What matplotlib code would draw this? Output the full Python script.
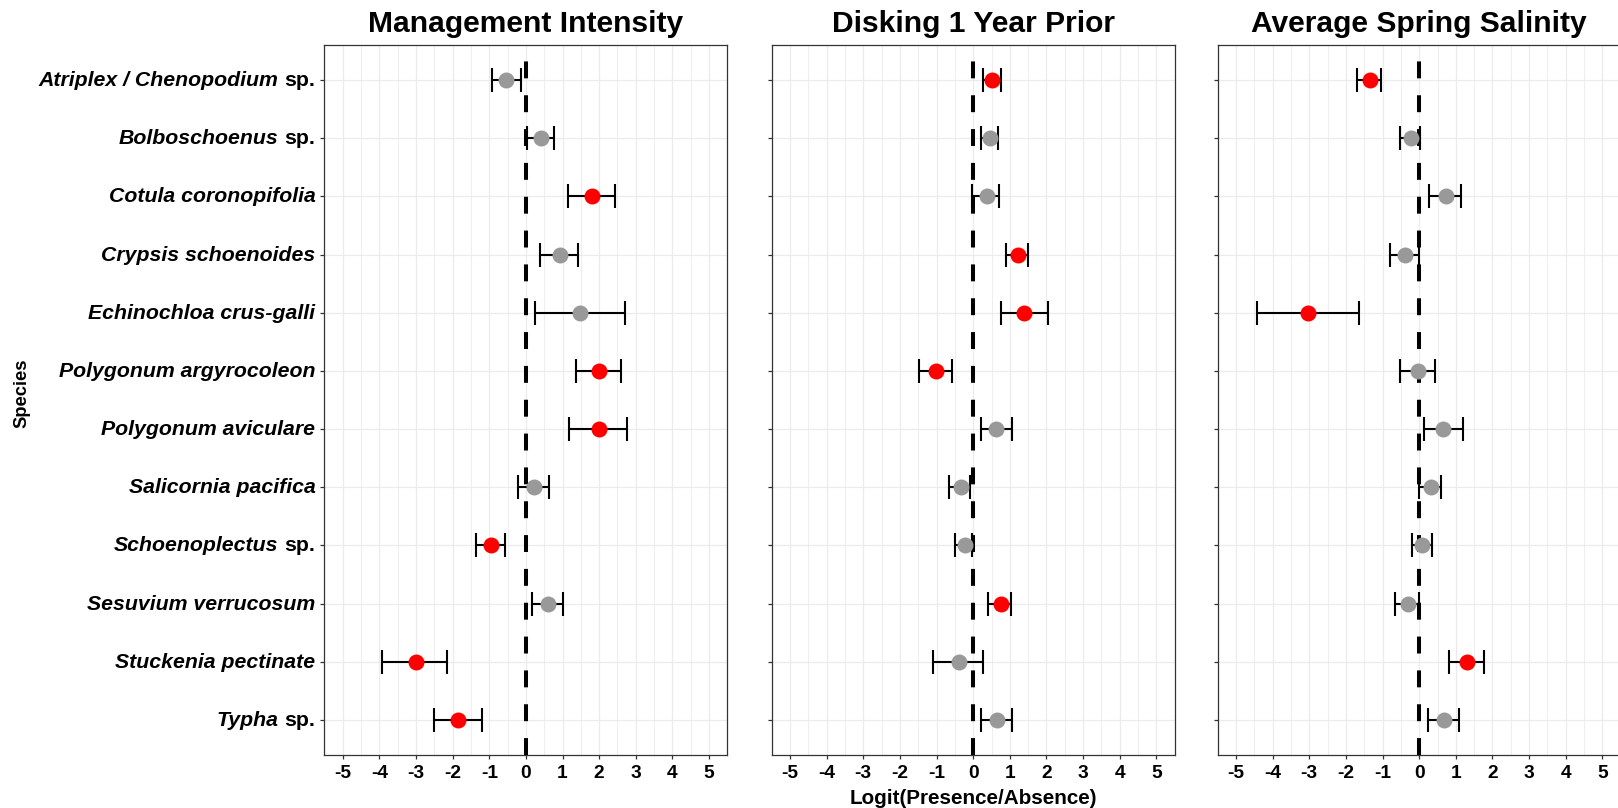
import matplotlib
matplotlib.use('Agg')
import matplotlib.pyplot as plt
import matplotlib.transforms as mtransforms
import numpy as np

plt.rcParams['font.family'] = ['Liberation Sans', 'DejaVu Sans']

# ---------------- data ----------------
species_italic = ["Atriplex / Chenopodium", "Bolboschoenus", "Cotula coronopifolia",
                  "Crypsis schoenoides", "Echinochloa crus-galli", "Polygonum argyrocoleon",
                  "Polygonum aviculare", "Salicornia pacifica", "Schoenoplectus",
                  "Sesuvium verrucosum", "Stuckenia pectinate", "Typha"]
species_suffix = ["sp.", "sp.", "", "", "", "", "", "", "sp.", "", "", "sp."]

panel_titles = ["Management Intensity", "Disking 1 Year Prior", "Average Spring Salinity"]
x_ticks = [-5, -4, -3, -2, -1, 0, 1, 2, 3, 4, 5]
x_label = "Logit(Presence/Absence)"
y_label = "Species"

mi_est = [-0.53, 0.40, 1.80, 0.92, 1.47, 2.00, 2.00, 0.21, -0.94, 0.61, -3.01, -1.86]
mi_low = [-0.93, 0.04, 1.15, 0.38, 0.25, 1.37, 1.19, -0.22, -1.35, 0.18, -3.92, -2.51]
mi_high = [-0.13, 0.78, 2.43, 1.41, 2.70, 2.60, 2.76, 0.62, -0.56, 1.01, -2.16, -1.19]
mi_sig = [0, 0, 1, 0, 0, 1, 1, 0, 1, 0, 1, 1]

dk_est = [0.51, 0.46, 0.37, 1.22, 1.40, -1.02, 0.63, -0.34, -0.22, 0.75, -0.40, 0.65]
dk_low = [0.26, 0.20, -0.02, 0.90, 0.75, -1.48, 0.20, -0.66, -0.51, 0.40, -1.10, 0.22]
dk_high = [0.76, 0.68, 0.70, 1.50, 2.04, -0.59, 1.06, -0.09, -0.02, 1.02, 0.27, 1.06]
dk_sig = [1, 0, 0, 1, 1, 1, 0, 0, 0, 1, 0, 0]

sal_est = [-1.35, -0.22, 0.73, -0.38, -3.03, -0.04, 0.66, 0.32, 0.08, -0.30, 1.31, 0.69]
sal_low = [-1.70, -0.53, 0.26, -0.81, -4.44, -0.53, 0.14, -0.01, -0.20, -0.65, 0.80, 0.24]
sal_high = [-1.04, 0.02, 1.13, -0.01, -1.63, 0.42, 1.19, 0.60, 0.34, -0.01, 1.77, 1.09]
sal_sig = [1, 0, 0, 0, 1, 0, 0, 0, 0, 0, 1, 0]

panels = [(mi_est, mi_low, mi_high, mi_sig),
          (dk_est, dk_low, dk_high, dk_sig),
          (sal_est, sal_low, sal_high, sal_sig)]

# ---------------- layout ----------------
W, H = 1618, 808
DPI = 100
fig = plt.figure(figsize=(W / DPI, H / DPI), dpi=DPI)
fig.patch.set_facecolor('white')

lefts = [324.4, 771.7, 1217.7]
pw = 403.0
top_px, bot_px = 45.0, 755.0
n = len(species_italic)
ypos = np.arange(n)

GRID = '#EBEBEB'
BORDER = '#333333'
RED = '#FF0000'
GREY = '#999999'

axes = []
for i, (est, low, high, sig) in enumerate(panels):
    ax = fig.add_axes([lefts[i] / W, 1 - bot_px / H, pw / W, (bot_px - top_px) / H])
    axes.append(ax)
    est = np.array(est); low = np.array(low); high = np.array(high); sig = np.array(sig, bool)
    ax.set_xlim(-5.5, 5.5)
    ax.set_ylim(n - 1 + 0.6, -0.6)
    ax.set_xticks(x_ticks)
    ax.set_xticks(np.arange(-4.5, 5.0, 1.0), minor=True)
    ax.set_xticklabels([str(t) for t in x_ticks], fontweight='bold', fontsize=13.8)
    ax.set_yticks(ypos)
    ax.set_yticklabels([])
    ax.grid(True, which='major', color=GRID, lw=0.9, zorder=0)
    ax.grid(True, which='minor', axis='x', color=GRID, lw=0.6, zorder=0)
    ax.set_axisbelow(True)
    for s in ax.spines.values():
        s.set_color(BORDER)
        s.set_linewidth(0.9)
    ax.tick_params(axis='both', which='major', length=3.2, width=0.9, color=BORDER,
                   labelcolor='black')
    ax.tick_params(axis='x', pad=4.3)
    ax.tick_params(axis='x', which='minor', length=0)

    ax.errorbar(est, ypos, xerr=[est - low, high - est], fmt='none', ecolor='black',
                elinewidth=1.5, capsize=8.3, capthick=1.5, zorder=2)
    ax.axvline(0, color='black', lw=2.9, ls=(0, (4.2, 4.2)), zorder=3)
    ax.plot(est[~sig], ypos[~sig], 'o', ms=11.5, color=GREY, mec='none', zorder=4)
    ax.plot(est[sig], ypos[sig], 'o', ms=11.5, color=RED, mec='none', zorder=4)

    fig.text((lefts[i] + pw / 2) / W, 1 - 32.3 / H, panel_titles[i], ha='center',
             va='baseline', fontsize=21.6, fontweight='bold')

# x label and y label
fig.text((lefts[1] + pw / 2) / W, 1 - 803.5 / H, x_label, ha='center', va='baseline',
         fontsize=14.9, fontweight='bold')
fig.text(22 / W, 1 - 393 / H, y_label, rotation=90, ha='center', va='center',
         fontsize=13.2, fontweight='bold')

# species labels with mixed italic / upright parts
fig.canvas.draw()
renderer = fig.canvas.get_renderer()
ax0 = axes[0]
LFS = 15.3
em_px = LFS * DPI / 72.0
space_px = 0.278 * em_px
gap = 9.0
base_dy = -6.0
for yi in range(n):
    it = species_italic[yi]
    suf = species_suffix[yi]
    xoff = -gap
    if suf:
        tr = mtransforms.offset_copy(ax0.get_yaxis_transform(), fig=fig, x=xoff, y=base_dy, units='dots')
        t = ax0.text(0, ypos[yi], suf, transform=tr, ha='right', va='baseline',
                     fontsize=LFS, fontweight='bold', clip_on=False)
        w = t.get_window_extent(renderer).width
        xoff = xoff - w - space_px
    tr = mtransforms.offset_copy(ax0.get_yaxis_transform(), fig=fig, x=xoff, y=base_dy, units='dots')
    ax0.text(0, ypos[yi], it, transform=tr, ha='right', va='baseline',
             fontsize=LFS, fontweight='bold', fontstyle='italic', clip_on=False)

fig.savefig('out.png', dpi=DPI)
